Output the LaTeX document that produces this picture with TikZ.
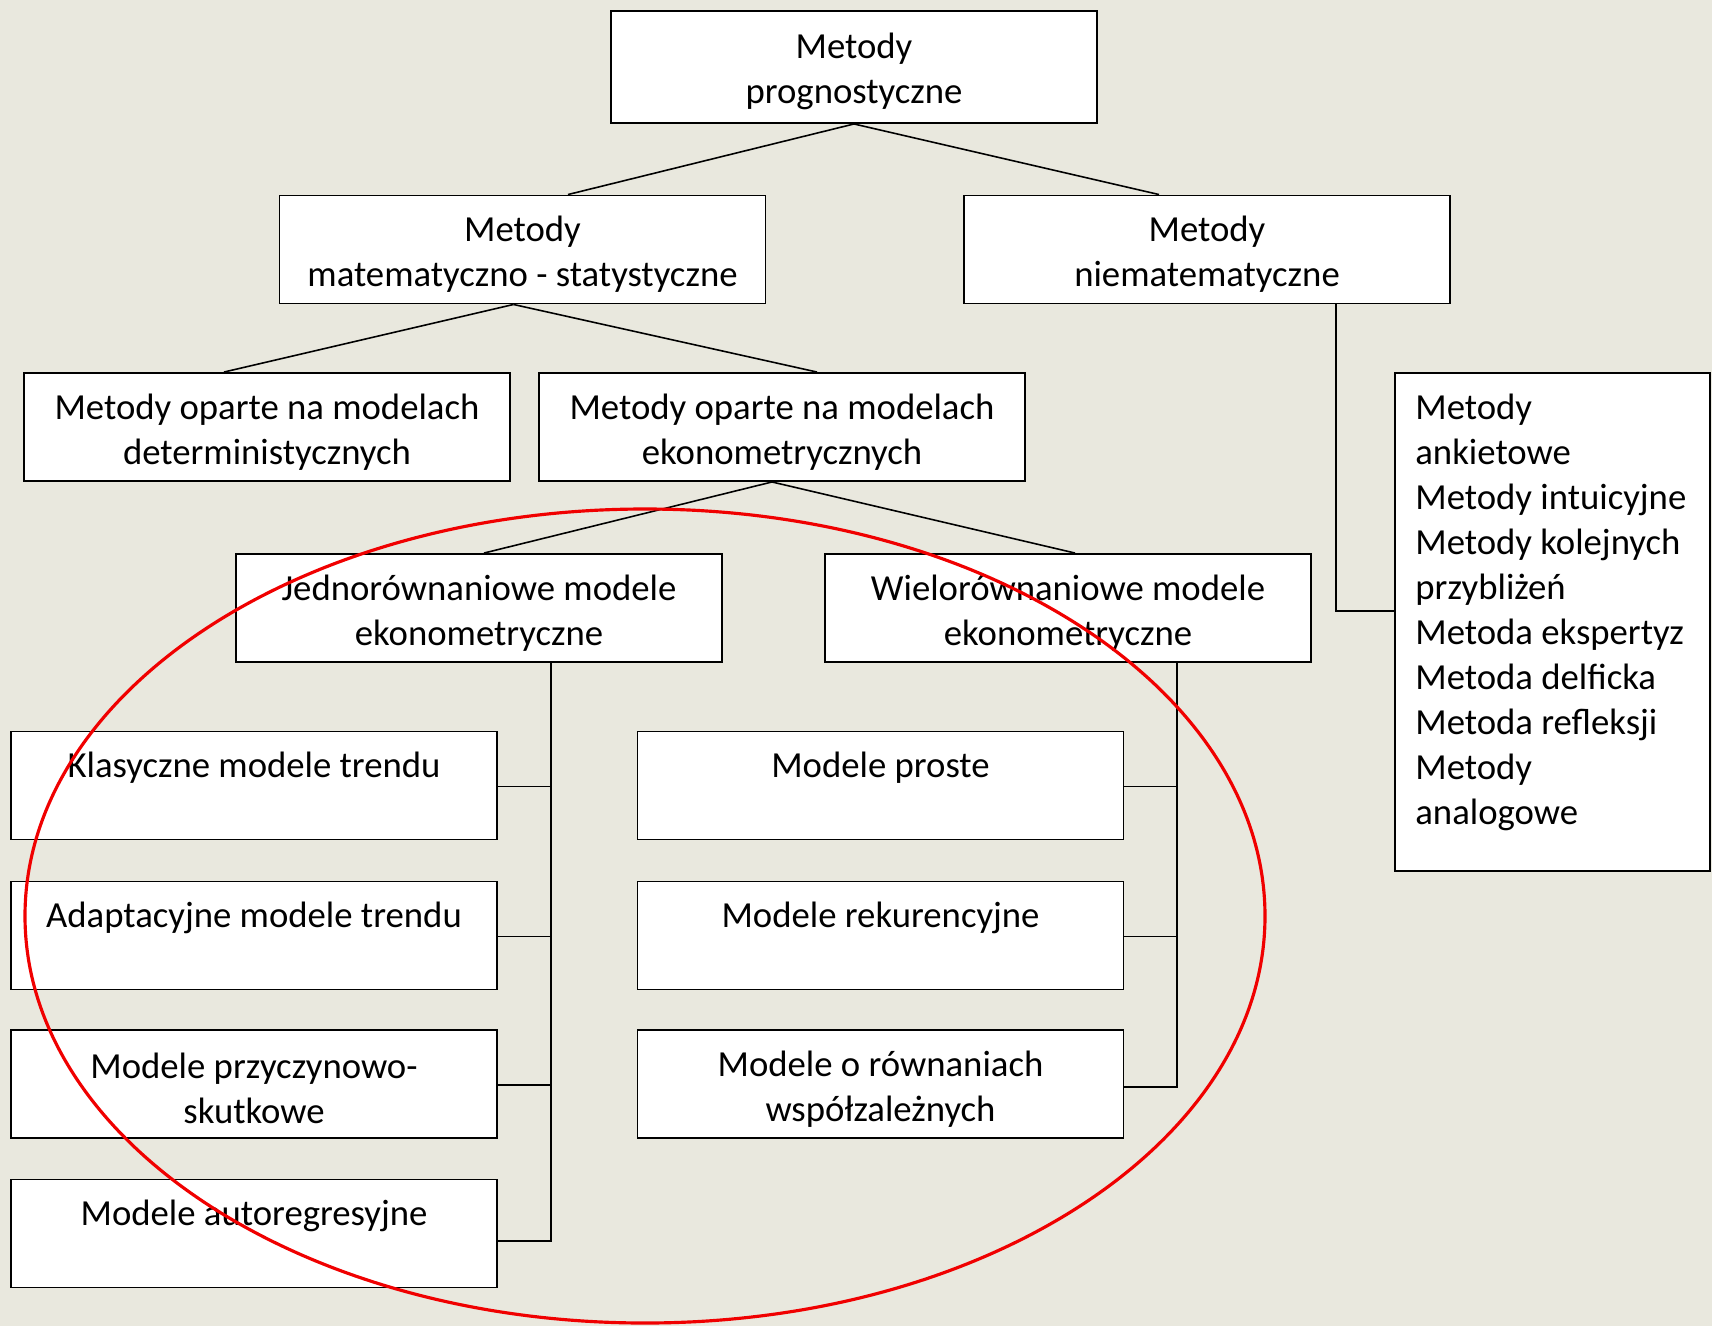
\documentclass[tikz,border=0pt]{standalone}
\usepackage{fontspec}
\setmainfont{Carlito}
\usetikzlibrary{calc}
\definecolor{tlo}{RGB}{233,232,222}
\definecolor{obwod}{RGB}{240,0,0}
\newcommand{\gora}{\rule{0pt}{20pt}}

\tikzset{
  box/.style={draw, line width=1.1pt, fill=white, minimum width=9.72cm, minimum height=2.16cm, align=center, inner sep=0pt},
  link/.style={line width=0.9pt},
}

\begin{document}
\begin{tikzpicture}[font=\fontsize{20.9}{25.6}\selectfont]
  \fill[tlo] (0,0) rectangle (34.24,-26.52);
  \useasboundingbox (0,0) rectangle (34.24,-26.52);

  \node[box, minimum height=2.24cm] (root) at (17.08,-1.34) {\gora Metody\\prognostyczne};
  \node[box] (matstat) at (10.45,-4.99) {\gora Metody\\matematyczno - statystyczne};
  \node[box] (niemat) at (24.14,-4.99) {\gora Metody\\niematematyczne};
  \node[box] (determ) at (5.34,-8.54) {\gora Metody oparte na modelach\\deterministycznych};
  \node[box] (ekonom) at (15.64,-8.54) {\gora Metody oparte na modelach\\ekonometrycznych};
  \node[box] (jedno) at (9.58,-12.16) {\gora Jednorównaniowe modele\\ekonometryczne};
  \node[box] (wielo) at (21.36,-12.16) {\gora Wielorównaniowe modele\\ekonometryczne};

  \node[box] (klas) at (5.08,-15.71) {\gora Klasyczne modele trendu\\\vphantom{y}};
  \node[box] (adapt) at (5.08,-18.71) {\gora Adaptacyjne modele trendu\\\vphantom{y}};
  \node[box] (przycz) at (5.08,-21.68) {\gora Modele przyczynowo-\\skutkowe};
  \node[box] (autor) at (5.08,-24.67) {\gora Modele autoregresyjne\\\vphantom{y}};

  \node[box] (proste) at (17.61,-15.71) {\gora Modele proste\\\vphantom{y}};
  \node[box] (rekur) at (17.61,-18.71) {\gora Modele rekurencyjne\\\vphantom{y}};
  \node[box] (rown) at (17.61,-21.68) {\gora Modele o równaniach\\współzależnych};

  \node[box, minimum width=6.3cm, minimum height=9.96cm] (lista) at (31.05,-12.44) {};
  \node[anchor=north west, align=left, inner sep=0pt] (listatekst) at ([xshift=0.42cm, yshift=-0.43cm]lista.north west)
    {Metody\\ankietowe\\Metody intuicyjne\\Metody kolejnych\\przybliżeń\\Metoda ekspertyz\\Metoda delficka\\Metoda refleksji\\Metody\\analogowe};

  \draw[link] (root.south) -- ([xshift=0.91cm]matstat.north);
  \draw[link] (root.south) -- ([xshift=-0.96cm]niemat.north);
  \draw[link] ([xshift=-0.18cm]matstat.south) -- ([xshift=-0.86cm]determ.north);
  \draw[link] ([xshift=-0.18cm]matstat.south) -- ([xshift=0.7cm]ekonom.north);
  \draw[link] ([xshift=-0.2cm]ekonom.south) -- ([xshift=0.1cm]jedno.north);
  \draw[link] ([xshift=-0.2cm]ekonom.south) -- ([xshift=0.14cm]wielo.north);

  \coordinate (npion) at ([xshift=2.58cm]niemat.south);
  \draw[link] (npion) |- ([yshift=0.22cm]lista.west);

  \coordinate (jpion) at ([xshift=1.44cm]jedno.south);
  \draw[link] (jpion) |- ([yshift=-0.15cm]autor.east);
  \foreach \n in {klas,adapt,przycz}
    \draw[link] ([yshift=-0.02cm]\n.east) -- ([yshift=-0.02cm]\n.east -| jpion);

  \coordinate (wpion) at ([xshift=2.18cm]wielo.south);
  \draw[link] (wpion) |- ([yshift=-0.06cm]rown.east);
  \foreach \n in {proste,rekur}
    \draw[link] ([yshift=-0.02cm]\n.east) -- ([yshift=-0.02cm]\n.east -| wpion);

  \draw[obwod, line width=1.8pt] (12.9,-18.32) ellipse [x radius=12.4cm, y radius=8.14cm];
\end{tikzpicture}
\end{document}
